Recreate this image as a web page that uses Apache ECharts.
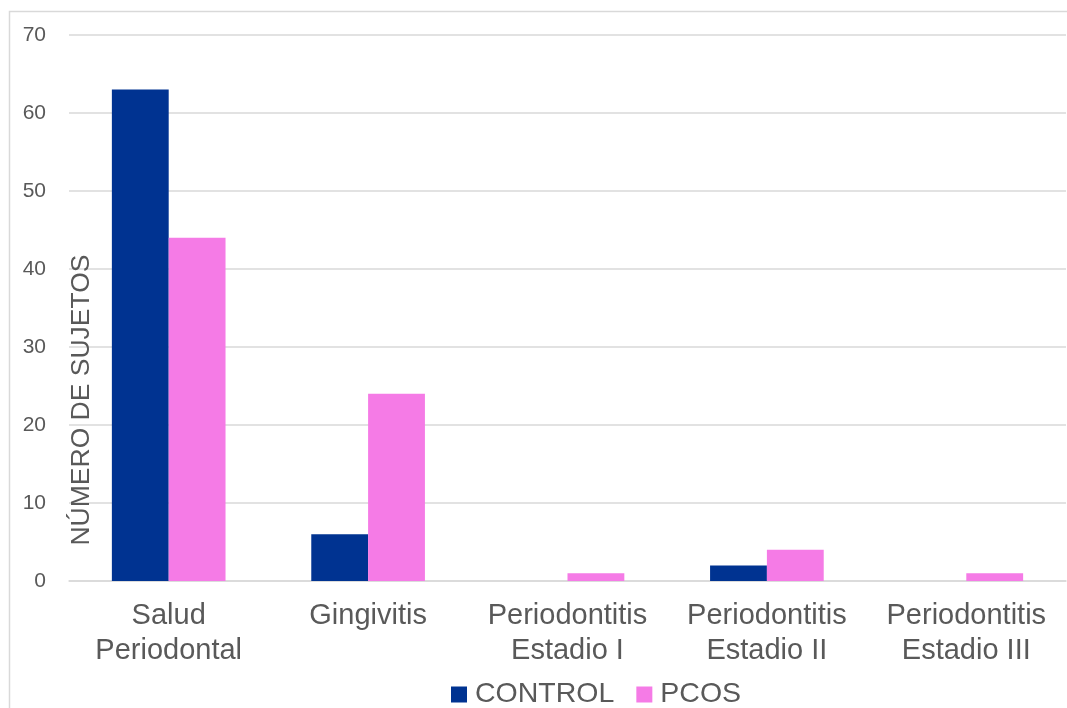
<!DOCTYPE html>
<html>
<head>
<meta charset="utf-8">
<script src="https://cdn.jsdelivr.net/npm/echarts@6/dist/echarts.min.js"></script>
<style>
  html, body { margin: 0; padding: 0; background: #ffffff; }
  #chart { width: 1067px; height: 708px; }
</style>
</head>
<body>
<div id="chart"></div>
<script>
// Periodontal status counts per group
const categories = [
  'Salud\nPeriodontal',
  'Gingivitis',
  'Periodontitis\nEstadio I',
  'Periodontitis\nEstadio II',
  'Periodontitis\nEstadio III'
];
const controlValues = [63, 6, 0, 2, 0];
const pcosValues = [44, 24, 1, 4, 1];
const yTicks = { min: 0, max: 70, interval: 10 };

const FONT = '"Liberation Sans", Arial, sans-serif';
const TEXT = '#595959';
const GRID = '#d9d9d9';

const chart = echarts.init(document.getElementById('chart'), null, { renderer: 'canvas' });

chart.setOption({
  backgroundColor: '#ffffff',
  animation: false,
  textStyle: { fontFamily: FONT },
  graphic: [
    {
      type: 'rect',
      silent: true,
      z: -10,
      shape: { x: 9.5, y: 11.5, width: 1200, height: 900 },
      style: { fill: 'none', stroke: GRID, lineWidth: 1.5 }
    },
    {
      // vertical axis title, drawn inside the plot area next to the axis
      type: 'text',
      silent: true,
      z: 100,
      x: 82,
      y: 400,
      rotation: Math.PI / 2,
      style: {
        text: 'NÚMERO DE SUJETOS',
        fontFamily: FONT,
        fontSize: 26.5,
        fill: TEXT,
        align: 'center',
        verticalAlign: 'middle'
      }
    }
  ],
  grid: { left: 69, right: 1, top: 35, bottom: 127, containLabel: false, outerBoundsMode: 'none' },
  legend: {
    left: 451,
    top: 680,
    padding: 0,
    itemWidth: 16,
    itemHeight: 16,
    itemGap: 22,
    icon: 'rect',
    textStyle: { fontFamily: FONT, fontSize: 28.5, color: TEXT, lineHeight: 29, padding: [0, 0, 0, 3] },
    data: ['CONTROL', 'PCOS']
  },
  xAxis: {
    type: 'category',
    data: categories,
    axisLine: { show: true, lineStyle: { color: GRID, width: 1.5 } },
    axisTick: { show: false },
    axisLabel: {
      interval: 0,
      margin: 17,
      fontFamily: FONT,
      fontSize: 29,
      lineHeight: 35,
      color: TEXT,
      align: 'center'
    },
    splitLine: { show: false }
  },
  yAxis: {
    type: 'value',
    min: yTicks.min,
    max: yTicks.max,
    interval: yTicks.interval,
    axisLine: { show: false },
    axisTick: { show: false },
    axisLabel: { margin: 23, fontFamily: FONT, fontSize: 21, color: TEXT },
    splitLine: { show: true, lineStyle: { color: GRID, width: 1.5 } }
  },
  series: [
    {
      name: 'CONTROL',
      type: 'bar',
      data: controlValues,
      barGap: '0%',
      barCategoryGap: '43%',
      itemStyle: { color: '#003391' }
    },
    {
      name: 'PCOS',
      type: 'bar',
      data: pcosValues,
      barGap: '0%',
      barCategoryGap: '43%',
      itemStyle: { color: '#F57BE6' }
    }
  ]
});
</script>
</body>
</html>
